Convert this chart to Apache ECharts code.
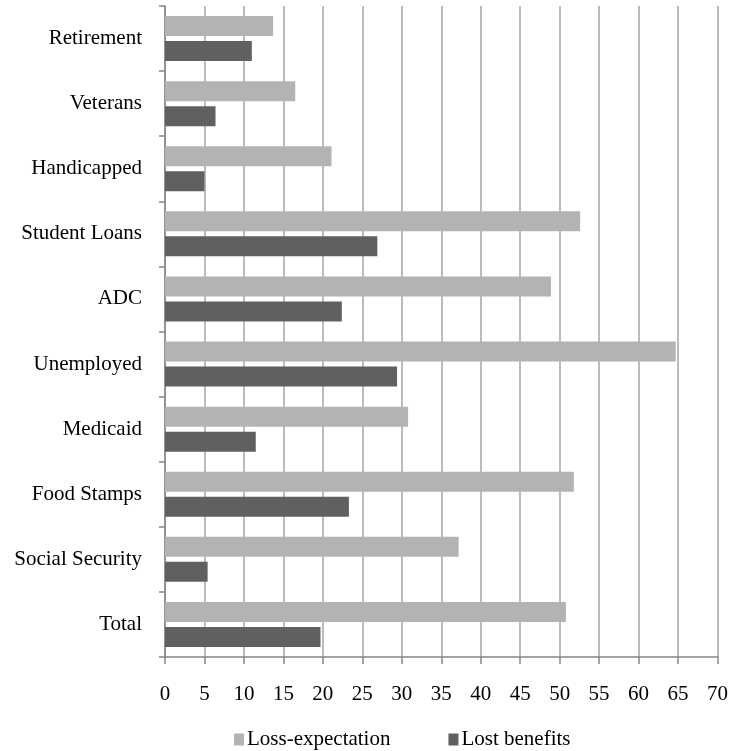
<!DOCTYPE html>
<html>
<head>
<meta charset="utf-8">
<script src="https://cdn.jsdelivr.net/npm/echarts@6/dist/echarts.min.js"></script>
<style>
  html, body { margin: 0; padding: 0; background: #fff; }
  #chart { width: 731px; height: 751px; }
</style>
</head>
<body>
<div id="chart"></div>
<script>
// Program categories, listed top to bottom
const categories = ['Retirement', 'Veterans', 'Handicapped', 'Student Loans', 'ADC',
  'Unemployed', 'Medicaid', 'Food Stamps', 'Social Security', 'Total'];
// Percentages per program
const lossExpectation = [13.7, 16.5, 21.1, 52.6, 48.9, 64.7, 30.8, 51.8, 37.2, 50.8];
const lostBenefits = [11.0, 6.4, 5.0, 26.9, 22.4, 29.4, 11.5, 23.3, 5.4, 19.7];
const seriesNames = ['Loss-expectation', 'Lost benefits'];

const font = 'Liberation Serif, Times New Roman, serif';
const chart = echarts.init(document.getElementById('chart'), null, { renderer: 'canvas' });

chart.setOption({
  animation: false,
  backgroundColor: '#ffffff',
  textStyle: { fontFamily: font, color: '#000' },
  grid: { left: 165, right: 13, top: 6, bottom: 94 },
  legend: {
    data: seriesNames,
    left: 229,
    top: 724,
    itemWidth: 10,
    itemHeight: 12,
    itemGap: 58,
    icon: 'rect',
    textStyle: { fontFamily: font, fontSize: 21, color: '#000', padding: [0, 0, 0, -2] }
  },
  xAxis: {
    type: 'value',
    min: 0,
    max: 70,
    interval: 5,
    axisLine: { show: true, lineStyle: { color: '#868686', width: 1.5 } },
    axisTick: { show: true, length: 7, lineStyle: { color: '#868686', width: 1.5 } },
    axisLabel: { fontFamily: font, fontSize: 21, color: '#000', margin: 27 },
    splitLine: { show: true, lineStyle: { color: '#a6a6a6', width: 1.5 } }
  },
  yAxis: {
    type: 'category',
    data: categories,
    inverse: true,
    axisLine: { show: true, lineStyle: { color: '#868686', width: 1.5 } },
    axisTick: { show: true, length: 6, lineStyle: { color: '#868686', width: 1.5 } },
    axisLabel: { fontFamily: font, fontSize: 21, color: '#000', margin: 23, padding: [4, 0, 0, 0] },
    splitLine: { show: false }
  },
  series: [
    {
      name: seriesNames[0],
      type: 'bar',
      data: lossExpectation,
      barWidth: 20,
      barGap: '25%',
      itemStyle: { color: '#b3b3b3' }
    },
    {
      name: seriesNames[1],
      type: 'bar',
      data: lostBenefits,
      barWidth: 20,
      barGap: '25%',
      itemStyle: { color: '#606060' }
    }
  ]
});
</script>
</body>
</html>
